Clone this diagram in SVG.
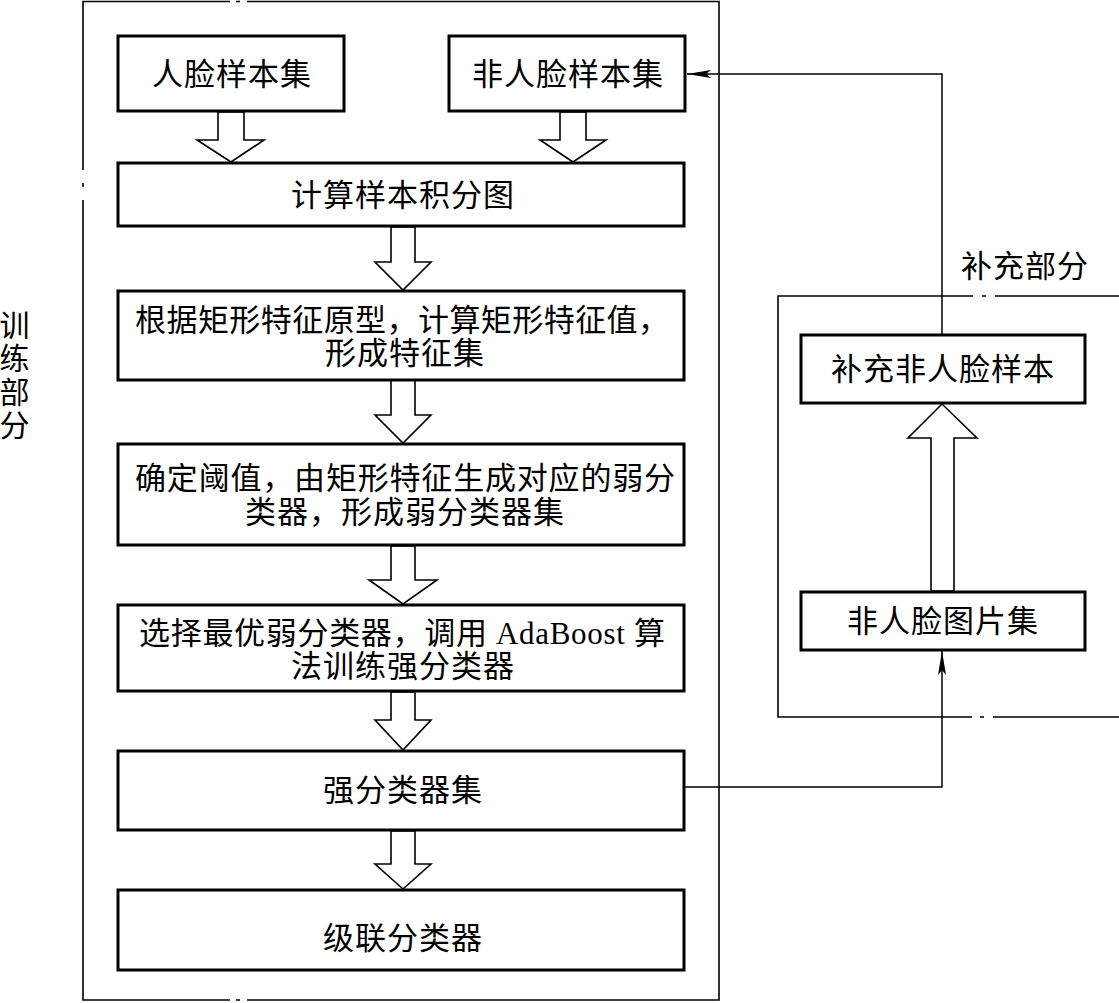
<svg xmlns="http://www.w3.org/2000/svg" width="1119" height="1003" viewBox="0 0 1119 1003">
<style>
.box{fill:#fff;stroke:#000;stroke-width:3}
.frame{fill:none;stroke:#000;stroke-width:1.6}
.conn{fill:none;stroke:#000;stroke-width:1.5}
.hollow{fill:#fff;stroke:#000;stroke-width:1.6;stroke-linejoin:miter}
.t{font-family:"Liberation Serif","Noto Sans CJK SC",serif;font-size:31px;fill:#000;text-anchor:middle;dominant-baseline:central;letter-spacing:1px}
.tl{letter-spacing:0}
</style>
<defs>
<marker id="ah" viewBox="0 0 24 8" refX="24" refY="4" markerWidth="24" markerHeight="8" markerUnits="userSpaceOnUse" orient="auto">
<path d="M0,0 L24,4 L0,8 L5,4 Z" fill="#000"/>
</marker>
</defs>
<rect width="1119" height="1003" fill="#fff"/>

<g id="frame-training">
<path class="frame" d="M230,1.5 H83 V170 M83,200 V1000 H230 M247,1000 H719 V1.5 H247"/>
<path class="frame" d="M236,1.5 H240 M236,1000 H240 M83,183 V187"/>
</g>
<g id="frame-supplement">
<path class="frame" d="M1119,296 H995 M973,296 H778 V717 H972 M993,717 H1119"/>
<path class="frame" d="M982,296 H986 M980,717 H984"/>
</g>

<g id="label-training">
<text class="t" x="15" y="325" style="font-size:30px">训</text>
<text class="t" x="15" y="358" style="font-size:30px">练</text>
<text class="t" x="15" y="392" style="font-size:30px">部</text>
<text class="t" x="15" y="425" style="font-size:30px">分</text>
</g>
<g id="label-supplement">
<text class="t" x="1025" y="266">补充部分</text>
</g>

<g id="connectors">
<polygon class="hollow" points="218,112 244,112 244,140 264,140 231,162 197,140 218,140"/>
<polygon class="hollow" points="560,112 586,112 586,140 606,140 573,162 540,140 560,140"/>
<polygon class="hollow" points="391,227 415,227 415,262 431,262 403,290 375,262 391,262"/>
<polygon class="hollow" points="391,380 415,380 415,415 431,415 403,443 375,415 391,415"/>
<polygon class="hollow" points="391,546 415,546 415,580 437,580 403,604 369,580 391,580"/>
<polygon class="hollow" points="391,692 415,692 415,720 431,720 403,750 375,720 391,720"/>
<polygon class="hollow" points="391,831 415,831 415,864 431,864 403,889 375,864 391,864"/>
<polygon class="hollow" points="931,591 954,591 954,438 977,438 942,404 908,438 931,438"/>
<path class="conn" d="M942,335 V74 H687" marker-end="url(#ah)"/>
<path class="conn" d="M685,787 H942 V651" marker-end="url(#ah)"/>
</g>

<g id="node-face">
<rect class="box" x="118" y="36" width="226" height="75"/>
<text class="t" x="232" y="74">人脸样本集</text>
</g>
<g id="node-nonface">
<rect class="box" x="449" y="36" width="236" height="75"/>
<text class="t" x="568" y="74">非人脸样本集</text>
</g>
<g id="node-integral">
<rect class="box" x="118" y="163" width="566" height="63"/>
<text class="t" x="403" y="195">计算样本积分图</text>
</g>
<g id="node-features">
<rect class="box" x="118" y="291" width="566" height="89"/>
<text class="t tl" x="402" y="320" textLength="534" lengthAdjust="spacing">根据矩形特征原型，计算矩形特征值，</text>
<text class="t" x="405" y="353">形成特征集</text>
</g>
<g id="node-weak">
<rect class="box" x="118" y="444" width="566" height="101"/>
<text class="t tl" x="405" y="478" textLength="540" lengthAdjust="spacing">确定阈值，由矩形特征生成对应的弱分</text>
<text class="t" x="405" y="512">类器，形成弱分类器集</text>
</g>
<g id="node-adaboost">
<rect class="box" x="118" y="605" width="566" height="86"/>
<text class="t tl" x="402" y="633" textLength="526" lengthAdjust="spacing">选择最优弱分类器，调用 AdaBoost 算</text>
<text class="t" x="403" y="666">法训练强分类器</text>
</g>
<g id="node-strong">
<rect class="box" x="118" y="751" width="566" height="79"/>
<text class="t" x="403" y="790">强分类器集</text>
</g>
<g id="node-cascade">
<rect class="box" x="118" y="890" width="566" height="80"/>
<text class="t" x="403" y="938">级联分类器</text>
</g>
<g id="node-supp">
<rect class="box" x="801" y="335" width="284" height="68"/>
<text class="t" x="943" y="369">补充非人脸样本</text>
</g>
<g id="node-images">
<rect class="box" x="801" y="592" width="284" height="58"/>
<text class="t" x="943" y="621">非人脸图片集</text>
</g>
</svg>
